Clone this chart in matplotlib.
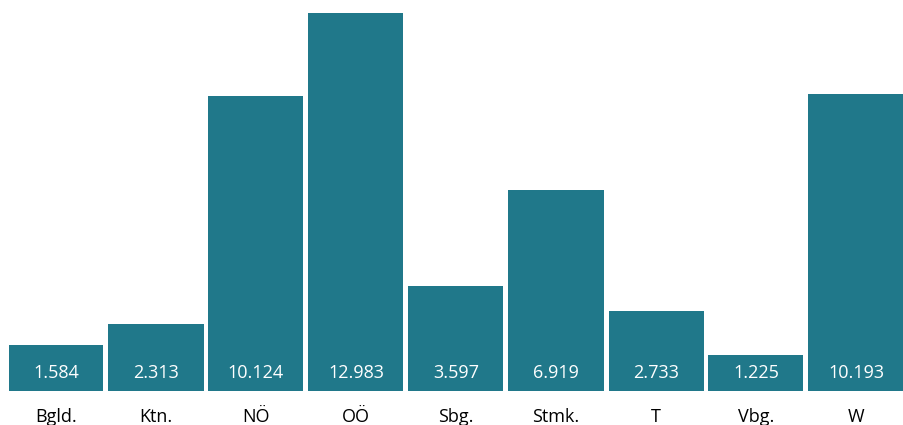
import matplotlib
matplotlib.use('Agg')
import matplotlib.pyplot as plt

# Bundeslaender und Werte
laender = ['Bgld.', 'Ktn.', 'NÖ', 'OÖ', 'Sbg.', 'Stmk.', 'T', 'Vbg.', 'W']
werte = [1584, 2313, 10124, 12983, 3597, 6919, 2733, 1225, 10193]

BAR_COLOR = '#20788a'

fig = plt.figure(figsize=(9.04, 4.25), dpi=100)
ax = fig.add_axes([6 / 904, 34 / 425, 900 / 904, (391 - 13) / 425])

x = range(len(laender))
bars = ax.bar(x, werte, width=0.95, color=BAR_COLOR)

ax.set_xlim(-0.5, len(laender) - 0.5)
ax.set_ylim(0, max(werte))
ax.axis('off')

def fmt(v):
    return '{:,}'.format(v).replace(',', '.')

for i, v in enumerate(werte):
    # Wert unten im Balken
    ax.annotate(fmt(v), xy=(i, 0), xytext=(0, 13), textcoords='offset points',
                ha='center', va='center', color='white', fontsize=13,
                family='Open Sans')
    # Kategorie unter dem Balken
    ax.annotate(laender[i], xy=(i, 0), xytext=(0, -18.5), textcoords='offset points',
                ha='center', va='center', color='#000000', fontsize=13,
                family='Open Sans', annotation_clip=False)

fig.savefig('out.png', dpi=100)
